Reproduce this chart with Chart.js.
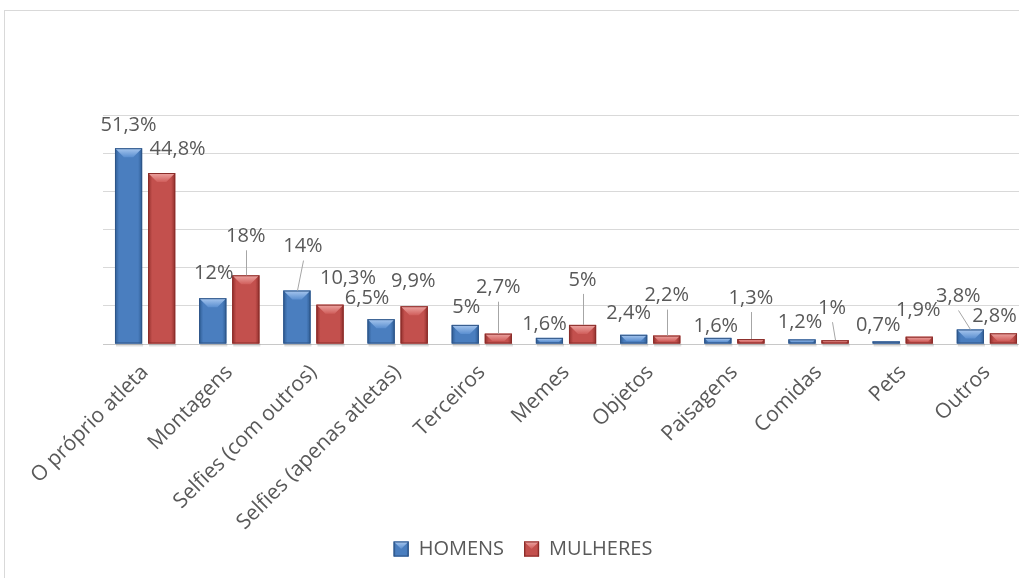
<!DOCTYPE html>
<html>
<head>
<meta charset="utf-8">
<script src="https://cdn.jsdelivr.net/npm/chart.js@4.4.1/dist/chart.umd.min.js"></script>
<style>
  html, body { margin: 0; padding: 0; background: #fff; width: 1019px; height: 578px; overflow: hidden; }
  #frame { position: absolute; left: 4px; top: 10px; width: 1100px; height: 700px; border: 1px solid #d9d9d9; box-sizing: border-box; }
  #wrap { position: absolute; left: 0; top: 0; width: 1040px; height: 578px; }
</style>
</head>
<body>
<div id="frame"></div>
<div id="wrap"><canvas id="chart" width="1040" height="578"></canvas></div>
<script>
// --- dados ---
const categories = ['O próprio atleta', 'Montagens', 'Selfies (com outros)', 'Selfies (apenas atletas)',
  'Terceiros', 'Memes', 'Objetos', 'Paisagens', 'Comidas', 'Pets', 'Outros'];
const homens   = [51.3, 12, 14, 6.5, 5, 1.6, 2.4, 1.6, 1.2, 0.7, 3.8];
const mulheres = [44.8, 18, 10.3, 9.9, 2.7, 5, 2.2, 1.3, 1, 1.9, 2.8];
const yTicks = [0, 10, 20, 30, 40, 50, 60];

// ajustes manuais dos rótulos (dx, dy a partir do topo da barra), como o Excel deixou
const nudgeH = [[0,-23],[1,-25],[6,-44],[-14,-21],[1,-18],[-5,-14],[-5,-22],[-2,-12],[-2,-17],[-8,-16],[-12,-33]];
const nudgeM = [[16,-24],[0,-39],[18,-26],[-1,-25],[0,-46],[0,-45],[0,-40],[0,-41],[-3,-32],[-1,-26],[-9,-17]];

const FONT = "'Open Sans', sans-serif";
const TXT = '#595959';

const palette = [
  { body: '#4a7ebf', dark: '#2e5c94', light: '#a9c8ef', mid: '#5b8fd0', edge: '#2f5587' },
  { body: '#c3504d', dark: '#912f2c', light: '#eea7a4', mid: '#d05e5b', edge: '#8a2d2a' }
];

function fmt(v) {
  return String(v).replace('.', ',') + '%';
}

// barra com "chanfro" no topo, imitando o estilo 3D do Excel
function bevel(ctx, l, top, w, h, c) {
  if (h <= 0) return;
  const r = l + w;
  const g = ctx.createLinearGradient(l, 0, r, 0);
  g.addColorStop(0, c.dark);
  g.addColorStop(0.15, c.body);
  g.addColorStop(0.85, c.body);
  g.addColorStop(1, c.dark);
  ctx.fillStyle = g;
  ctx.fillRect(l, top, w, h);
  const b = Math.min(9, h * 0.75, w / 2);
  const tg = ctx.createLinearGradient(0, top, 0, top + b);
  tg.addColorStop(0, c.light);
  tg.addColorStop(1, c.mid);
  ctx.beginPath();
  ctx.moveTo(l, top); ctx.lineTo(r, top);
  ctx.lineTo(r - b, top + b); ctx.lineTo(l + b, top + b);
  ctx.closePath();
  ctx.fillStyle = tg;
  ctx.fill();
  ctx.strokeStyle = c.edge;
  ctx.lineWidth = 1;
  ctx.strokeRect(l + 0.5, top + 0.5, w - 1, h - 1);
}

const bevelAndLabels = {
  id: 'bevelAndLabels',
  afterLayout(chart) {
    // deixa os rótulos inclinados passarem por baixo da legenda, como no Excel
    chart.scales.x.bottom = chart.height;
  },
  afterDatasetsDraw(chart) {
    const ctx = chart.ctx;
    ctx.save();
    // sombra suave sob as barras
    chart.data.datasets.forEach((ds, di) => {
      chart.getDatasetMeta(di).data.forEach(bar => {
        ctx.fillStyle = 'rgba(0,0,0,0.12)';
        ctx.fillRect(bar.x - bar.width / 2 + 1, bar.base, bar.width, 3);
      });
    });
    chart.data.datasets.forEach((ds, di) => {
      chart.getDatasetMeta(di).data.forEach(bar => {
        bevel(ctx, bar.x - bar.width / 2, bar.y, bar.width, bar.base - bar.y, palette[di]);
      });
    });
    ctx.font = '20px ' + FONT;
    ctx.textAlign = 'center';
    ctx.textBaseline = 'middle';
    chart.data.datasets.forEach((ds, di) => {
      const nudge = di === 0 ? nudgeH : nudgeM;
      chart.getDatasetMeta(di).data.forEach((bar, i) => {
        const lx = bar.x + nudge[i][0];
        const ly = bar.y + nudge[i][1];
        if (-nudge[i][1] > 30) {
          ctx.strokeStyle = '#a6a6a6';
          ctx.lineWidth = 1;
          ctx.beginPath();
          ctx.moveTo(Math.round(lx) + 0.5, ly + 14);
          ctx.lineTo(Math.round(bar.x) + 0.5, bar.y);
          ctx.stroke();
        }
        ctx.fillStyle = TXT;
        ctx.fillText(fmt(ds.data[i]), lx, ly);
      });
    });
    ctx.restore();
  },
  afterDraw(chart) {
    const lg = chart.legend;
    if (!lg || !lg.legendHitBoxes) return;
    lg.legendHitBoxes.forEach((hb, i) => {
      const top = hb.top + Math.max((20 - 15) / 2, 0);
      bevel(chart.ctx, hb.left, top, 15, 15, palette[i]);
    });
  }
};

new Chart(document.getElementById('chart'), {
  type: 'bar',
  data: {
    labels: categories,
    datasets: [
      { label: 'HOMENS', data: homens, backgroundColor: palette[0].body, borderWidth: 0 },
      { label: 'MULHERES', data: mulheres, backgroundColor: palette[1].body, borderWidth: 0 }
    ]
  },
  options: {
    responsive: false,
    devicePixelRatio: 1,
    animation: false,
    categoryPercentage: 0.786,
    barPercentage: 0.82,
    layout: { padding: { left: 17, top: 115, right: 11, bottom: 9 } },
    plugins: {
      tooltip: { enabled: false },
      legend: {
        position: 'bottom',
        labels: { color: TXT, font: { family: FONT, size: 20 }, boxWidth: 15, boxHeight: 15, padding: 20 }
      }
    },
    scales: {
      x: {
        grid: { display: false },
        border: { color: '#c8c8c8' },
        ticks: { color: TXT, font: { family: FONT, size: 21 }, minRotation: 45, maxRotation: 45, autoSkip: false, padding: 8 },
        afterFit(s) { s.height = 175; }
      },
      y: {
        min: yTicks[0],
        max: yTicks[yTicks.length - 1],
        afterBuildTicks(s) { s.ticks = yTicks.map(v => ({ value: v })); },
        ticks: { display: false },
        grid: { color: '#d9d9d9', drawTicks: false },
        border: { display: false },
        afterFit(s) { s.width = 86; }
      }
    }
  },
  plugins: [bevelAndLabels]
});
</script>
</body>
</html>
